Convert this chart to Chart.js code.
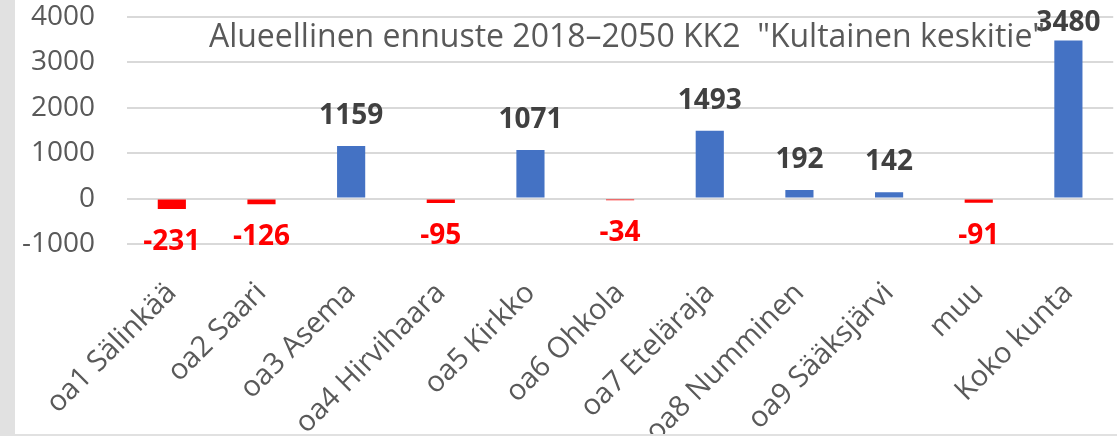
<!DOCTYPE html>
<html>
<head>
<meta charset="utf-8">
<script src="https://cdn.jsdelivr.net/npm/chart.js@4/dist/chart.umd.min.js"></script>
<style>
  html, body { margin: 0; padding: 0; }
  body { width: 1117px; height: 436px; background: #e1e1e1; position: relative; overflow: hidden; }
  #wrap { position: absolute; left: 15px; top: 0; width: 1102px; height: 434px; background: #ffffff; }
</style>
</head>
<body>
<div id="wrap"><canvas id="myChart"></canvas></div>
<script>
'use strict';

// chart data
var areas = ['oa1 Sälinkää', 'oa2 Saari', 'oa3 Asema', 'oa4 Hirvihaara', 'oa5 Kirkko', 'oa6 Ohkola',
    'oa7 Eteläraja', 'oa8 Numminen', 'oa9 Sääksjärvi', 'muu', 'Koko kunta'];
var change = [-231, -126, 1159, -95, 1071, -34, 1493, 192, 142, -91, 3480];
var yTicks = [-1000, 0, 1000, 2000, 3000, 4000];
var chartTitle = 'Alueellinen ennuste 2018\u20132050 KK2  "Kultainen keskitie"';

var blue = '#4472c4';
var red = '#ff0000';

var barColors = [];
for (var i = 0; i < change.length; i++) {
    barColors.push(change[i] < 0 ? red : blue);
}

// value labels above / below each bar
var valueLabels = {
    id: 'valueLabels',
    afterDatasetsDraw: function (chart) {
        var ctx = chart.ctx;
        var bars = chart.getDatasetMeta(0).data;
        ctx.save();
        ctx.font = 'bold 28px "Open Sans"';
        ctx.textAlign = 'center';
        ctx.textBaseline = 'middle';
        for (var i = 0; i < bars.length; i++) {
            var v = change[i];
            var y;
            if (v < 0) {
                ctx.fillStyle = red;
                y = bars[i].y + 33;
            } else {
                ctx.fillStyle = '#404040';
                y = Math.max(bars[i].y - 30, 23);
            }
            ctx.fillText(String(v), bars[i].x, y);
        }
        ctx.restore();
    }
};

// title sits inside the plot area, like in the original
var titleInside = {
    id: 'titleInside',
    afterDraw: function (chart) {
        var ctx = chart.ctx;
        ctx.save();
        ctx.font = '32px "Open Sans"';
        ctx.fillStyle = '#595959';
        ctx.textAlign = 'center';
        ctx.textBaseline = 'alphabetic';
        ctx.fillText(chartTitle, 612, 47);
        ctx.restore();
    }
};

var ctx = document.getElementById('myChart').getContext('2d');
var chart = new Chart(ctx, {
    type: 'bar',
    data: {
        labels: areas,
        datasets: [{
            data: change,
            backgroundColor: barColors,
            borderWidth: 0,
            barPercentage: 0.314,
            categoryPercentage: 1
        }]
    },
    options: {
        responsive: true,
        maintainAspectRatio: false,
        animation: false,
        layout: { padding: 0 },
        plugins: {
            legend: { display: false },
            title: { display: false },
            tooltip: { enabled: false }
        },
        scales: {
            x: {
                grid: { display: false },
                border: { display: false },
                ticks: {
                    color: '#595959',
                    font: { family: 'Open Sans', size: 29 },
                    maxRotation: 45,
                    minRotation: 45,
                    padding: 24,
                    autoSkip: false
                },
                afterFit: function (scale) { scale.height = 190; }
            },
            y: {
                min: yTicks[0],
                max: yTicks[yTicks.length - 1],
                afterBuildTicks: function (scale) {
                    scale.ticks = yTicks.map(function (v) { return { value: v }; });
                },
                grid: { color: '#d9d9d9', lineWidth: 2, drawTicks: false },
                border: { display: false },
                ticks: {
                    color: '#595959',
                    font: { family: 'Open Sans', size: 28 },
                    padding: 32,
                    callback: function (v) { return String(v); }
                },
                afterFit: function (scale) {
                    scale.width = 112;
                    scale.paddingTop = 17;
                }
            }
        }
    },
    plugins: [valueLabels, titleInside]
});
</script>
</body>
</html>
